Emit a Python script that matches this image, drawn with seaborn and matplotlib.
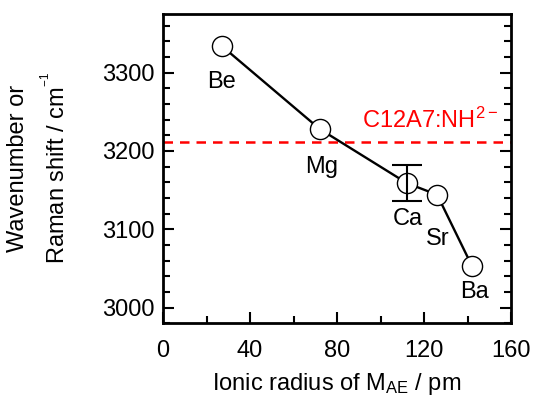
import matplotlib
matplotlib.use("Agg")
import matplotlib.pyplot as plt
import seaborn as sns
import pandas as pd
from matplotlib.ticker import MultipleLocator

elements = ["Be", "Mg", "Ca", "Sr", "Ba"]
radius = [27, 72, 112, 126, 142]
wavenumber = [3334, 3228, 3159, 3144, 3053]
ca_err = 23.5
ref_value = 3212
ref_label = "C12A7:NH$^{2\u2212}$"

df = pd.DataFrame({"radius": radius, "wavenumber": wavenumber, "element": elements})

sns.set_theme(style="ticks")
plt.rcParams['font.family'] = ['Liberation Sans', 'DejaVu Sans']
plt.rcParams['mathtext.fontset'] = 'custom'
plt.rcParams['mathtext.rm'] = 'Liberation Sans'
plt.rcParams['mathtext.it'] = 'Liberation Sans'
plt.rcParams['text.color'] = 'black'
plt.rcParams['axes.labelcolor'] = 'black'
FS = 17

fig = plt.figure(figsize=(5.33, 3.98), dpi=100)
ax = fig.add_axes([0.306, 0.188, 0.653, 0.777])

ax.axhline(ref_value, color="#ff0000", lw=1.8, ls=(0, (3.8, 2.8)), zorder=1)
sns.lineplot(data=df, x="radius", y="wavenumber", ax=ax, color="black", lw=1.7,
             marker="o", markersize=14.5, markerfacecolor="white",
             markeredgecolor="black", markeredgewidth=1.0, zorder=3)
ca = elements.index("Ca")
ax.errorbar(radius[ca], wavenumber[ca], yerr=ca_err, color="black", lw=1.5,
            capsize=10.5, capthick=1.5, zorder=4)

offsets = {"Be": (0, -26), "Mg": (1.5, -27), "Ca": (1, -26), "Sr": (0.5, -32), "Ba": (2, -19)}
for el, x, y in zip(elements, radius, wavenumber):
    ax.annotate(el, (x, y), xytext=offsets[el], textcoords="offset points",
                ha="center", va="center", fontsize=FS, color="black")

ax.text(91.5, 3230, ref_label, color="#ff0000", fontsize=FS, ha="left", va="baseline")

ax.set_xlim(0, 160)
ax.set_ylim(2980, 3375)
ax.xaxis.set_major_locator(MultipleLocator(40))
ax.xaxis.set_minor_locator(MultipleLocator(20))
ax.yaxis.set_major_locator(MultipleLocator(100))
ax.yaxis.set_minor_locator(MultipleLocator(20))
ax.tick_params(axis="both", which="both", direction="in", labelsize=FS, width=1.5,
               colors="black", labelcolor="black")
ax.tick_params(axis="x", which="major", length=8, pad=12, top=False)
ax.tick_params(axis="x", which="minor", length=5, top=False)
ax.tick_params(axis="y", which="major", length=8, pad=6, right=True)
ax.tick_params(axis="y", which="minor", length=5, right=True)
for s in ax.spines.values():
    s.set_linewidth(2)
    s.set_color("black")

ax.set_xlabel("")
ax.set_ylabel("")
fig.text(337 / 533, 1 - 384 / 398, "Ionic radius of M$_{\\mathrm{AE}}$ / pm",
         fontsize=FS, ha="center", va="center", color="black")
fig.text(39 / 533, 1 - 168 / 398, "Wavenumber or\nRaman shift / cm$^{^{-1}}$",
         fontsize=FS, ha="center", va="center", rotation=90, color="black",
         multialignment="center", linespacing=1.5)

fig.savefig("out.png", dpi=100)
